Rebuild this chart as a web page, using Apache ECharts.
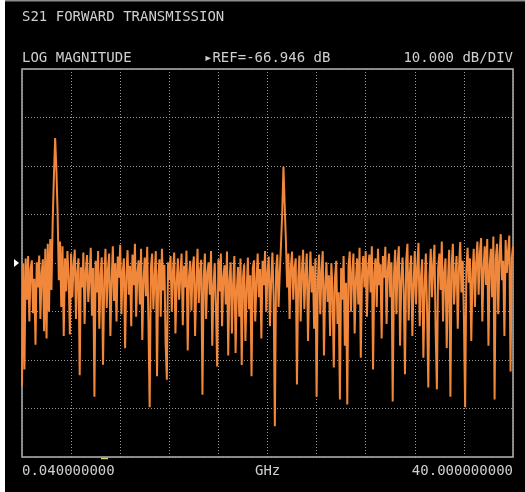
<!DOCTYPE html>
<html>
<head>
<meta charset="utf-8">
<script src="https://cdn.jsdelivr.net/npm/echarts@6/dist/echarts.min.js"></script>
<style>
html,body{margin:0;padding:0;background:#ffffff;}
#chart{width:525px;height:492px;}
</style>
</head>
<body>
<div id="chart"></div>
<script>
// ---- data ----
const TITLE = 'S21 FORWARD TRANSMISSION';
const FORMAT_LABEL = 'LOG MAGNITUDE';
const REF_DB = -66.946;
const SCALE_DB_PER_DIV = 10;
const REF_LABEL = '\u25B8REF=-66.946 dB';
const SCALE_LABEL = '10.000 dB/DIV';
const START_LABEL = '0.040000000';
const UNIT_LABEL = 'GHz';
const STOP_LABEL = '40.000000000';
const X_DIVS = 10;
const Y_DIVS = 8;

// measured trace, dB (401 sweep points from 0.04 to 40 GHz)
const traceDb = [
-92.4,-67.0,-88.9,-66.0,-74.5,-65.5,-79.0,-68.2,-66.4,-77.3,
-70.2,-83.8,-66.8,-72.0,-65.4,-78.5,-69.1,-66.2,-81.0,-64.0,
-82.5,-63.0,-77.0,-62.0,-72.5,-58.5,-49.0,-41.2,-47.5,-56.5,
-70.5,-62.5,-76.0,-63.5,-82.0,-66.0,-72.8,-64.5,-70.0,-81.7,
-65.0,-74.0,-67.5,-64.2,-78.5,-69.0,-66.0,-90.1,-67.8,-72.0,
-64.8,-79.5,-68.6,-65.3,-75.0,-70.2,-63.8,-77.8,-68.0,-94.5,
-66.5,-73.0,-64.5,-80.5,-69.5,-65.8,-87.9,-70.8,-64.0,-76.2,
-68.4,-65.0,-82.0,-71.0,-63.5,-74.8,-67.0,-79.0,-65.6,-70.0,
-63.2,-77.5,-68.8,-66.0,-84.5,-69.8,-64.3,-73.5,-67.5,-80.0,
-65.2,-71.5,-63.0,-78.0,-69.0,-66.4,-75.5,-64.0,-82.8,-70.5,
-65.8,-73.8,-63.6,-79.2,-96.7,-68.0,-65.0,-76.5,-70.0,-64.5,
-90.3,-69.5,-66.2,-78.0,-64.0,-72.6,-67.3,-83.5,-91.0,-66.8,
-70.5,-65.5,-77.0,-68.5,-64.8,-81.5,-71.0,-66.0,-74.5,-69.2,
-65.0,-79.8,-67.5,-72.0,-64.4,-85.0,-70.0,-66.5,-76.8,-68.0,
-65.6,-82.0,-71.5,-64.0,-75.2,-68.6,-66.3,-94.1,-70.2,-65.0,
-78.5,-69.0,-66.8,-73.5,-64.5,-84.0,-71.8,-67.0,-76.0,-88.3,
-66.2,-72.8,-65.0,-80.0,-69.8,-67.4,-75.5,-64.6,-86.0,-70.5,
-66.8,-81.5,-71.2,-65.5,-85.5,-72.5,-67.8,-78.0,-66.0,-88.0,
-70.0,-67.2,-83.0,-72.8,-65.8,-76.5,-69.5,-90.3,-68.0,-66.4,
-79.0,-70.8,-65.0,-74.0,-68.2,-82.5,-66.5,-71.5,-64.5,-77.0,
-69.0,-65.6,-80.0,-70.5,-64.8,-73.8,-100.6,-68.5,-65.2,-76.0,
-69.0,-63.2,-56.5,-47.1,-55.0,-62.5,-72.0,-65.0,-78.5,-67.8,
-64.6,-74.5,-68.0,-66.0,-92.0,-70.2,-65.4,-79.0,-68.8,-64.2,
-76.5,-69.5,-65.0,-83.0,-71.0,-64.6,-73.0,-67.5,-80.5,-66.0,
-94.5,-70.5,-65.2,-77.5,-68.6,-64.5,-86.0,-71.8,-66.8,-75.0,
-69.5,-82.0,-67.0,-72.5,-88.5,-70.0,-66.5,-79.5,-73.0,-95.1,
-68.0,-74.5,-65.5,-84.0,-71.0,-96.1,-67.5,-64.6,-77.0,-69.0,
-65.0,-81.5,-70.5,-66.0,-75.5,-63.8,-86.5,-69.5,-65.5,-72.0,
-64.5,-78.0,-68.0,-65.2,-73.0,-63.5,-88.9,-69.0,-66.0,-76.0,
-64.0,-71.5,-67.2,-82.5,-65.5,-70.0,-63.6,-79.5,-68.5,-65.0,
-74.0,-66.8,-95.5,-69.5,-64.2,-77.5,-67.0,-63.5,-84.0,-70.5,
-65.8,-73.0,-89.9,-66.5,-63.0,-78.8,-69.0,-65.4,-82.0,-71.5,
-64.5,-75.5,-68.0,-62.8,-80.0,-70.0,-66.2,-86.5,-72.0,-65.0,
-77.0,-92.6,-69.5,-64.0,-74.0,-67.5,-63.2,-81.0,-93.0,-68.0,
-65.0,-72.5,-62.5,-79.0,-69.0,-66.0,-84.5,-70.8,-64.2,-94.5,
-67.5,-63.0,-75.5,-69.8,-65.5,-80.5,-68.0,-62.6,-73.0,-66.5,
-78.0,-96.7,-68.5,-63.8,-71.0,-66.0,-83.0,-69.5,-64.0,-76.0,
-67.0,-62.5,-73.5,-65.0,-61.8,-79.0,-68.0,-63.5,-71.5,-62.0,
-84.0,-67.5,-64.0,-74.0,-61.5,-95.1,-66.0,-63.0,-77.5,-65.5,
-61.0,-70.5,-66.5,-82.0,-62.2,-69.0,-64.5,-61.3,-89.3,-66.0,-63.5
];

// ---- chart ----
const N = traceDb.length;
const seriesData = traceDb.map((v, i) => [i, v - REF_DB]);
const halfSpan = SCALE_DB_PER_DIV * Y_DIVS / 2;

const GL = 22, GR = 513, GT = 69, GB = 457;
const FONT = '"DejaVu Sans Mono", "Liberation Mono", monospace';
const TXT = '#cfcfcf';
const gridLine = {show: true, lineStyle: {color: '#9a9a9a', type: [1, 2], width: 1}};

const chart = echarts.init(document.getElementById('chart'), null, {renderer: 'canvas'});
chart.setOption({
  backgroundColor: '#000000',
  animation: false,
  grid: {left: GL, right: 525 - GR, top: GT, bottom: 492 - GB, show: true,
         borderColor: '#b4b4b4', borderWidth: 1.5, backgroundColor: 'transparent'},
  xAxis: {type: 'value', min: 0, max: N - 1, interval: (N - 1) / X_DIVS,
          axisLine: {show: false}, axisTick: {show: false}, axisLabel: {show: false},
          splitLine: gridLine},
  yAxis: {type: 'value', min: -halfSpan, max: halfSpan, interval: SCALE_DB_PER_DIV,
          axisLine: {show: false}, axisTick: {show: false}, axisLabel: {show: false},
          splitLine: gridLine},
  series: [{
    type: 'line', data: seriesData, showSymbol: false, symbol: 'none',
    sampling: null, z: 3,
    lineStyle: {color: '#f0873a', width: 2, join: 'miter', miterLimit: 2}
  }],
  graphic: [
    {type: 'rect', shape: {x: 0, y: 0, width: 5, height: 492}, style: {fill: '#ffffff'}, silent: true},
    {type: 'rect', shape: {x: 5, y: 0, width: 520, height: 1.5}, style: {fill: '#8c8c8c'}, silent: true},
    {type: 'text', left: 22, top: 10, style: {text: TITLE, fill: TXT, font: '14px ' + FONT}},
    {type: 'text', left: 22, top: 51, style: {text: FORMAT_LABEL, fill: TXT, font: '14px ' + FONT}},
    {type: 'text', left: 204, top: 51, style: {text: REF_LABEL, fill: TXT, font: '14px ' + FONT}},
    {type: 'text', right: 12, top: 51, style: {text: SCALE_LABEL, fill: TXT, font: '14px ' + FONT}},
    {type: 'text', left: 22, top: 464, style: {text: START_LABEL, fill: TXT, font: '14px ' + FONT}},
    {type: 'text', left: 255, top: 464, style: {text: UNIT_LABEL, fill: TXT, font: '14px ' + FONT}},
    {type: 'text', right: 12, top: 464, style: {text: STOP_LABEL, fill: TXT, font: '14px ' + FONT}},
    {type: 'polygon', shape: {points: [[14, 259], [19, 263], [14, 267]]}, style: {fill: '#ffffff'}},
    {type: 'line', shape: {x1: 101, y1: 458.5, x2: 108, y2: 458.5}, style: {stroke: '#d8d070', lineWidth: 1.5}}
  ]
});
</script>
</body>
</html>
